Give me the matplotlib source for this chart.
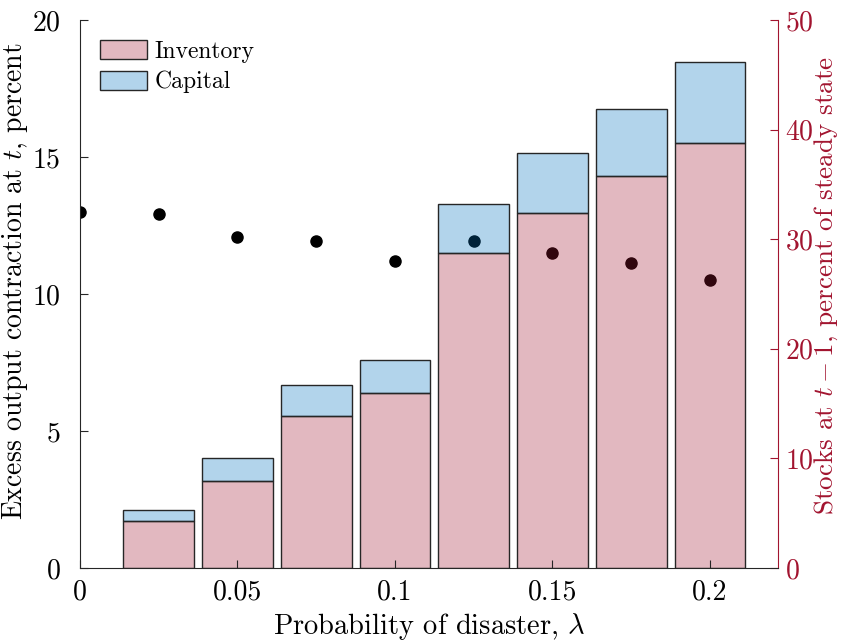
import matplotlib
matplotlib.use("Agg")
import matplotlib.pyplot as plt
import numpy as np

plt.rcParams['font.family'] = 'cmr10'
plt.rcParams['mathtext.fontset'] = 'cm'
plt.rcParams['axes.formatter.use_mathtext'] = True

# Data
lam_bars = [0.025, 0.05, 0.075, 0.1, 0.125, 0.15, 0.175, 0.2]
inventory = [1.72, 3.18, 5.56, 6.40, 11.48, 12.94, 14.30, 15.52]
total = [2.11, 4.00, 6.69, 7.60, 13.29, 15.13, 16.74, 18.46]
capital = [t - i for t, i in zip(total, inventory)]

lam_pts = [0.0, 0.025, 0.05, 0.075, 0.1, 0.125, 0.15, 0.175, 0.2]
stocks = [32.5, 32.3, 30.2, 29.8, 28.05, 29.8, 28.75, 27.8, 26.3]

xticks = [0, 0.05, 0.1, 0.15, 0.2]
xticklabels = ['0', '0.05', '0.1', '0.15', '0.2']
lticks = [0, 5, 10, 15, 20]
rticks = [0, 10, 20, 30, 40, 50]

crimson = (0.6350, 0.0780, 0.1840)
blue = (0.0, 0.4470, 0.7410)
alpha = 0.3
edge = (0.15, 0.15, 0.15)

fig = plt.figure(figsize=(8.44, 6.41), dpi=100)
ax = fig.add_axes([0.0948, 0.1139, 0.827, 0.855])
ax2 = ax.twinx()

# dots on right axis
ax2.plot(lam_pts, stocks, 'o', color='black', markersize=8, linestyle='none')
ax2.set_ylim(0, 50)
ax2.set_yticks(rticks)

# bars on left axis, drawn above dots
ax.set_zorder(ax2.get_zorder() + 1)
ax.patch.set_visible(False)
w = 0.0225
ax.bar(lam_bars, inventory, width=w, color=crimson + (alpha,),
       edgecolor=edge, linewidth=1.0, label='Inventory')
ax.bar(lam_bars, capital, width=w, bottom=inventory, color=blue + (alpha,),
       edgecolor=edge, linewidth=1.0, label='Capital')

ax.set_xlim(0, 0.2216)
ax.set_ylim(0, 20)
ax.set_xticks(xticks)
ax.set_xticklabels(xticklabels)
ax.set_yticks(lticks)

for a in (ax, ax2):
    a.spines['top'].set_visible(False)
ax.spines['right'].set_visible(False)
ax2.spines['left'].set_visible(False)
ax2.spines['bottom'].set_visible(False)
ax2.spines['right'].set_color(crimson)
ax.spines['left'].set_color(edge)
ax.spines['bottom'].set_color(edge)

ax.tick_params(axis='x', direction='in', length=6, labelsize=20, pad=8,
               color=edge, labelcolor='black')
ax.tick_params(axis='y', direction='in', length=6, labelsize=20, pad=14,
               color=edge, labelcolor='black')
ax2.tick_params(axis='y', direction='in', length=6, labelsize=20, pad=5,
                color=crimson, labelcolor=crimson)

ax.set_xlabel(r'Probability of disaster, $\lambda$', fontsize=20.5, labelpad=4)
ax.set_ylabel(r'Excess output contraction at $t$, percent', fontsize=20)
ax2.set_ylabel(r'Stocks at $t-1$, percent of steady state', fontsize=19.5,
               color=crimson)
ax.yaxis.set_label_coords(-0.071, 0.524)
ax2.yaxis.set_label_coords(1.050, 0.515)

leg = ax.legend(loc='upper left', frameon=False, fontsize=17,
                handlelength=2.0, handleheight=0.85, handletextpad=0.3,
                labelspacing=0.35, borderaxespad=0.45, borderpad=0.4)

fig.savefig('out.png', dpi=100)
